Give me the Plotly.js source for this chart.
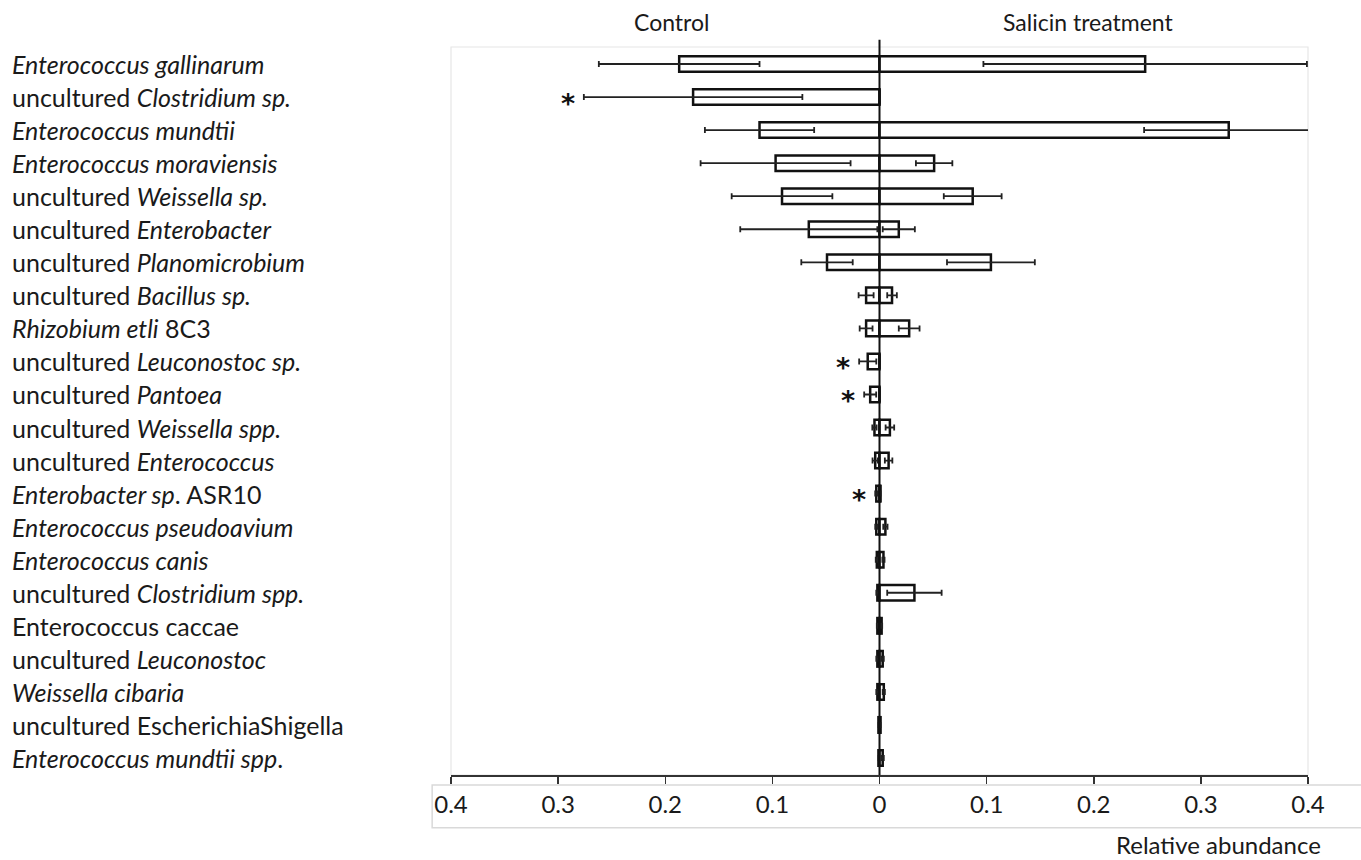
<!DOCTYPE html>
<html>
<head>
<meta charset="utf-8">
<script src="https://cdn.plot.ly/plotly-3.0.1.min.js"></script>
<style>
  html, body { margin: 0; padding: 0; background: #fff; }
  #chart { width: 1361px; height: 860px; }
</style>
</head>
<body>
<div id="chart"></div>
<script>
// Taxa, top to bottom
const taxa = [
  "<i>Enterococcus gallinarum</i>",
  "uncultured <i>Clostridium sp.</i>",
  "<i>Enterococcus mundtii</i>",
  "<i>Enterococcus moraviensis</i>",
  "uncultured <i>Weissella sp.</i>",
  "uncultured <i>Enterobacter</i>",
  "uncultured <i>Planomicrobium</i>",
  "uncultured <i>Bacillus sp.</i>",
  "<i>Rhizobium etli</i> 8C3",
  "uncultured <i>Leuconostoc sp.</i>",
  "uncultured <i>Pantoea</i>",
  "uncultured <i>Weissella spp.</i>",
  "uncultured <i>Enterococcus</i>",
  "<i>Enterobacter sp</i>. ASR10",
  "<i>Enterococcus pseudoavium</i>",
  "<i>Enterococcus canis</i>",
  "uncultured <i>Clostridium spp.</i>",
  "Enterococcus caccae",
  "uncultured <i>Leuconostoc</i>",
  "<i>Weissella cibaria</i>",
  "uncultured EscherichiaShigella",
  "<i>Enterococcus mundtii spp</i>."
];

// Mean relative abundance and error, control group
const controlMean = [0.187, 0.174, 0.112, 0.097, 0.091, 0.066, 0.049, 0.0125, 0.0125, 0.011, 0.0087,
                     0.0047, 0.004, 0.003, 0.003, 0.0025, 0.002, 0.002, 0.002, 0.002, 0.001, 0.001];
const controlErr  = [0.075, 0.102, 0.051, 0.070, 0.047, 0.064, 0.024, 0.007, 0.006, 0.008, 0.0056,
                     0.002, 0.0025, 0.001, 0.001, 0.001, 0.001, 0.0005, 0.001, 0.001, 0.0, 0.0];

// Mean relative abundance and error, salicin treatment
const salicinMean = [0.248, 0.0, 0.326, 0.051, 0.087, 0.018, 0.104, 0.0117, 0.0277, 0.0, 0.0,
                     0.0097, 0.0085, 0.001, 0.0055, 0.0037, 0.0326, 0.002, 0.003, 0.004, 0.001, 0.003];
const salicinErr  = [0.151, 0.0, 0.079, 0.017, 0.027, 0.015, 0.041, 0.0045, 0.0097, 0.0, 0.0,
                     0.004, 0.0035, 0.0, 0.002, 0.001, 0.0254, 0.0005, 0.001, 0.001, 0.0, 0.001];

// Rows with a significant difference (index into taxa)
const significant = [1, 9, 10, 13];

// Axis ticks: values are mirrored around zero, labels show magnitude
const tickValues = [-0.4, -0.3, -0.2, -0.1, 0, 0.1, 0.2, 0.3, 0.4];
const tickLabels = ["0.4", "0.3", "0.2", "0.1", "0", "0.1", "0.2", "0.3", "0.4"];

const FONT = "Lato, 'Open Sans', sans-serif";
const INK = "#111111";
const TEXT = "#1a1a1a";

const barStyle = {
  color: "#ffffff",
  line: { color: INK, width: 2.5 }
};
const errStyle = (arr) => ({
  type: "data", array: arr, visible: true,
  color: "#222222", thickness: 1.8, width: 3
});

const traces = [
  {
    type: "bar", orientation: "h", name: "Control",
    y: taxa, x: controlMean.map(v => -v),
    marker: barStyle, error_x: errStyle(controlErr),
    hoverinfo: "skip"
  },
  {
    type: "bar", orientation: "h", name: "Salicin treatment",
    y: taxa, x: salicinMean,
    marker: barStyle, error_x: errStyle(salicinErr),
    hoverinfo: "skip"
  }
];

const annotations = [];

// Row labels, left aligned in the margin
taxa.forEach(t => {
  annotations.push({
    xref: "paper", yref: "y", x: -0.5145, y: t,
    xanchor: "left", yanchor: "middle", showarrow: false,
    text: t, font: { family: FONT, size: 25, color: TEXT }
  });
});

// Significance markers just beyond the control error bar
significant.forEach(i => {
  annotations.push({
    xref: "x", yref: "y", x: -(controlMean[i] + controlErr[i]), y: taxa[i],
    xanchor: "right", yanchor: "middle", xshift: -8, yshift: -6,
    borderpad: 0,
    showarrow: false, text: "<b>*</b>",
    font: { family: "'DejaVu Sans', sans-serif", size: 27, color: INK }
  });
});

// Group headers and axis caption
annotations.push(
  { xref: "paper", yref: "paper", x: 0.257, y: 1.035, xanchor: "center", yanchor: "middle",
    showarrow: false, text: "Control", font: { family: FONT, size: 23, color: TEXT } },
  { xref: "paper", yref: "paper", x: 0.743, y: 1.035, xanchor: "center", yanchor: "middle",
    showarrow: false, text: "Salicin treatment", font: { family: FONT, size: 23, color: TEXT } },
  { xref: "paper", yref: "paper", x: 0.895, y: -0.096, xanchor: "center", yanchor: "middle",
    showarrow: false, text: "Relative abundance", font: { family: FONT, size: 24, color: TEXT } }
);

const layout = {
  width: 1361, height: 860,
  margin: { l: 451, r: 53, t: 47, b: 85, pad: 0 },
  paper_bgcolor: "#ffffff", plot_bgcolor: "#ffffff",
  showlegend: false,
  barmode: "overlay",
  bargap: 0.53,
  font: { family: FONT, color: TEXT },
  xaxis: {
    range: [-0.4, 0.4], fixedrange: true,
    tickmode: "array", tickvals: tickValues, ticktext: tickLabels,
    tickfont: { family: FONT, size: 24, color: TEXT },
    ticks: "outside", ticklen: 7, tickwidth: 1.5, tickcolor: "#333333",
    showline: true, linecolor: "#333333", linewidth: 2,
    showgrid: false, zeroline: false
  },
  yaxis: {
    type: "category", autorange: "reversed", fixedrange: true,
    showticklabels: false, ticks: "", showgrid: false, zeroline: false, showline: false
  },
  shapes: [
    // light frame around the plotting area
    { type: "rect", xref: "paper", yref: "paper", x0: 0, x1: 1, y0: 0, y1: 1,
      line: { color: "#e6e6e6", width: 1.2 }, layer: "below" },
    // box behind the tick labels
    { type: "rect", xref: "paper", yref: "paper", x0: -0.022, x1: 1.08, y0: -0.0726, y1: -0.0137,
      line: { color: "#d9d9d9", width: 1.5 }, layer: "below" },
    // centre line separating the two groups
    { type: "line", xref: "x", yref: "paper", x0: 0, x1: 0, y0: 0, y1: 1.01,
      line: { color: INK, width: 2 }, layer: "above" }
  ],
  annotations: annotations
};

Plotly.newPlot("chart", traces, layout, { staticPlot: true, displayModeBar: false });
</script>
</body>
</html>
